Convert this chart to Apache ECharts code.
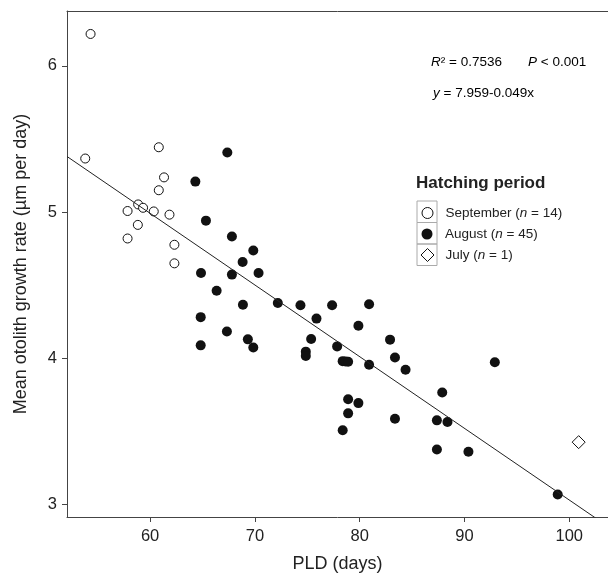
<!DOCTYPE html>
<html>
<head>
<meta charset="utf-8">
<script src="https://cdn.jsdelivr.net/npm/echarts@6/dist/echarts.min.js"></script>
<style>
  html, body { margin: 0; padding: 0; background: #fff; }
  #chart { width: 608px; height: 578px; }
</style>
</head>
<body>
<div id="chart"></div>
<script>
// PLD (days), growth rate (um per day)
const septPoints = [
  [54.32, 6.218], [53.81, 5.366], [60.83, 5.443], [61.33, 5.237], [60.83, 5.149],
  [58.86, 5.052], [59.33, 5.029], [57.85, 5.007], [60.35, 5.004], [61.85, 4.982],
  [58.83, 4.912], [57.85, 4.819], [62.32, 4.776], [62.32, 4.649]
]
const augPoints = [
  [67.37, 5.407], [64.32, 5.208], [65.33, 4.941], [67.81, 4.832], [69.85, 4.737],
  [68.83, 4.658], [64.86, 4.583], [67.81, 4.572], [70.35, 4.583], [66.35, 4.461],
  [68.86, 4.366], [72.19, 4.378], [64.83, 4.281], [67.33, 4.183], [69.33, 4.129],
  [69.85, 4.073], [64.83, 4.088], [74.35, 4.362], [77.37, 4.362], [80.9, 4.369],
  [75.88, 4.271], [79.88, 4.222], [75.37, 4.132], [77.85, 4.081], [74.86, 4.045],
  [74.86, 4.016], [78.38, 3.98], [78.65, 3.978], [78.9, 3.976], [80.9, 3.955],
  [82.9, 4.127], [83.37, 4.005], [84.38, 3.921], [78.9, 3.72], [79.88, 3.693],
  [78.9, 3.623], [78.38, 3.507], [83.37, 3.586], [92.9, 3.973], [87.88, 3.765],
  [87.37, 3.575], [88.38, 3.564], [87.37, 3.376], [90.38, 3.36], [98.9, 3.068]
]
const julyPoints = [[100.9, 3.426]]
const fitLine = [[52.07, 5.38], [103.7, 2.849]]
const xTicks = [60, 70, 80, 90, 100]
const yTicks = [3, 4, 5, 6]

const font = '"Liberation Sans", Arial, sans-serif'
const ink = '#222'
const legendLabels = {
  September: '{t|September (}{i|n}{t| = 14)}',
  August: '{t|August (}{i|n}{t| = 45)}',
  July: '{t|July (}{i|n}{t| = 1)}'
}
const legendRich = {
  t: { fontSize: 13.5, fontFamily: font, color: ink },
  i: { fontSize: 13.5, fontFamily: font, color: ink, fontStyle: 'italic' }
}

// symbol centred at x = 427, text starting near x = 445
function legendItem(name, top, style, size) {
  return {
    data: [{ name: name, icon: name === 'July' ? 'diamond' : 'circle', itemStyle: style }],
    left: 427 - size / 2,
    top: top,
    padding: 0,
    itemWidth: size,
    itemHeight: size,
    selectedMode: false,
    formatter: n => '{s|}' + legendLabels[n],
    textStyle: { rich: Object.assign({ s: { width: 13 - size / 2 } }, legendRich) }
  }
}

const chart = echarts.init(document.getElementById('chart'))
const axisLine = { show: true, lineStyle: { color: '#444', width: 1 } }

chart.setOption({
  animation: false,
  backgroundColor: '#fff',
  grid: { left: 67, right: 0, top: 11, bottom: 57 },
  xAxis: [
    {
      type: 'value',
      min: 52.07,
      max: 103.7,
      name: 'PLD (days)',
      nameLocation: 'middle',
      nameGap: 38,
      nameTextStyle: { fontSize: 18, fontFamily: font, color: ink },
      axisLine: axisLine,
      axisTick: { show: true, length: 5, customValues: xTicks, lineStyle: { color: '#444' } },
      axisLabel: { customValues: xTicks, fontSize: 16.5, fontFamily: font, color: ink, margin: 11 },
      splitLine: { show: false }
    },
    {
      type: 'value',
      position: 'top',
      min: 52.07,
      max: 103.7,
      axisLine: axisLine,
      axisTick: { show: false },
      axisLabel: { show: false },
      splitLine: { show: false }
    }
  ],
  yAxis: {
    type: 'value',
    min: 2.914,
    max: 6.375,
    name: 'Mean otolith growth rate (\u00b5m per day)',
    nameLocation: 'middle',
    nameGap: 37,
    nameTextStyle: { fontSize: 18, fontFamily: font, color: ink },
    axisLine: axisLine,
    axisTick: { show: true, length: 5, customValues: yTicks, lineStyle: { color: '#444' } },
    axisLabel: { customValues: yTicks, fontSize: 16.5, fontFamily: font, color: ink, margin: 10 },
    splitLine: { show: false }
  },
  legend: [
    legendItem('September', 206, { color: '#fff', borderColor: '#111', borderWidth: 1 }, 11),
    legendItem('August', 227, { color: '#111' }, 11),
    legendItem('July', 248, { color: '#fff', borderColor: '#111', borderWidth: 1 }, 13)
  ],
  graphic: [
    { type: 'rect', shape: { x: 417, y: 201, width: 20, height: 21.5 }, style: { fill: 'none', stroke: '#aaa', lineWidth: 1 } },
    { type: 'rect', shape: { x: 417, y: 222.5, width: 20, height: 21.5 }, style: { fill: 'none', stroke: '#aaa', lineWidth: 1 } },
    { type: 'rect', shape: { x: 417, y: 244, width: 20, height: 21.5 }, style: { fill: 'none', stroke: '#aaa', lineWidth: 1 } },
    {
      type: 'text', left: 416, top: 175,
      style: { text: 'Hatching period', font: 'bold 17px ' + font, fill: ink }
    },
    {
      type: 'text', left: 431, top: 55,
      style: { text: '{i|R}{t|\u00b2 = 0.7536}', rich: legendRich }
    },
    {
      type: 'text', left: 528, top: 55,
      style: { text: '{i|P}{t| < 0.001}', rich: legendRich }
    },
    {
      type: 'text', left: 433, top: 86,
      style: { text: '{i|y}{t| = 7.959-0.049x}', rich: legendRich }
    }
  ],
  series: [
    {
      name: 'September',
      type: 'scatter',
      data: septPoints,
      symbol: 'circle',
      symbolSize: 9,
      itemStyle: { color: '#fff', borderColor: '#111', borderWidth: 1, opacity: 1 }
    },
    {
      name: 'August',
      type: 'scatter',
      data: augPoints,
      symbol: 'circle',
      symbolSize: 10,
      itemStyle: { color: '#111', opacity: 1 }
    },
    {
      name: 'July',
      type: 'scatter',
      data: julyPoints,
      symbol: 'diamond',
      symbolSize: 13,
      itemStyle: { color: '#fff', borderColor: '#111', borderWidth: 1, opacity: 1 }
    },
    {
      name: 'fit',
      type: 'line',
      data: fitLine,
      symbol: 'none',
      clip: true,
      lineStyle: { color: '#222', width: 1 },
      z: 3
    }
  ]
})
</script>
</body>
</html>
